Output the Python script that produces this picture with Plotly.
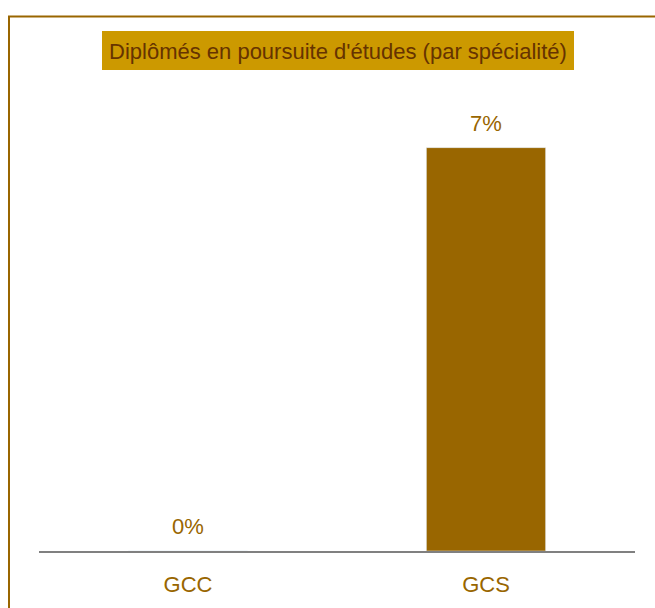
import plotly.graph_objects as go

categories = ["GCC", "GCS"]
values = [0, 7]
labels = ["0%", "7%"]
title_text = "Diplômés en poursuite d'études (par spécialité)"

FONT = "Liberation Sans, Arial, sans-serif"
W, H = 655, 608
L, R, T, B = 39, 655 - 635, 90, 608 - 551
pw, ph = W - L - R, H - T - B

def px_x(x):
    return (x - L) / pw

def px_y(y):
    return (H - B - y) / ph

fig = go.Figure(go.Bar(
    x=categories, y=values,
    marker_color="#996600", width=0.4,
    hoverinfo="skip",
))

for c, v, t in zip(categories, values, labels):
    fig.add_annotation(x=c, y=v, text=t, showarrow=False, xanchor="center",
                       yanchor="bottom", yshift=10,
                       font=dict(family=FONT, size=22, color="#996600"))

fig.update_layout(
    width=W, height=H, margin=dict(l=L, r=R, t=T, b=B),
    paper_bgcolor="white", plot_bgcolor="white", showlegend=False,
    bargap=0.6,
    xaxis=dict(showline=True, linecolor="#808080", linewidth=2, ticks="",
               tickfont=dict(family=FONT, size=22, color="#996600"),
               showgrid=False, zeroline=False, ticklabelstandoff=13),
    yaxis=dict(range=[0, 8], visible=False, showgrid=False, zeroline=False),
    shapes=[
        dict(type="rect", xref="paper", yref="paper",
             x0=px_x(9), x1=px_x(700), y0=px_y(700), y1=px_y(16.5),
             line=dict(color="#996600", width=2), fillcolor="rgba(0,0,0,0)", layer="below"),
        dict(type="rect", xref="paper", yref="paper",
             x0=px_x(102), x1=px_x(574), y0=px_y(70), y1=px_y(31),
             line=dict(width=0), fillcolor="#CC9900", layer="below"),
    ],
)
fig.add_annotation(text=title_text, xref="paper", yref="paper", x=px_x(338), y=px_y(52),
                   xanchor="center", yanchor="middle", showarrow=False,
                   font=dict(family=FONT, size=22, color="#663300"))

fig.write_html("out.html", config={"displayModeBar": False},
               post_script="document.body.style.margin='0';")
